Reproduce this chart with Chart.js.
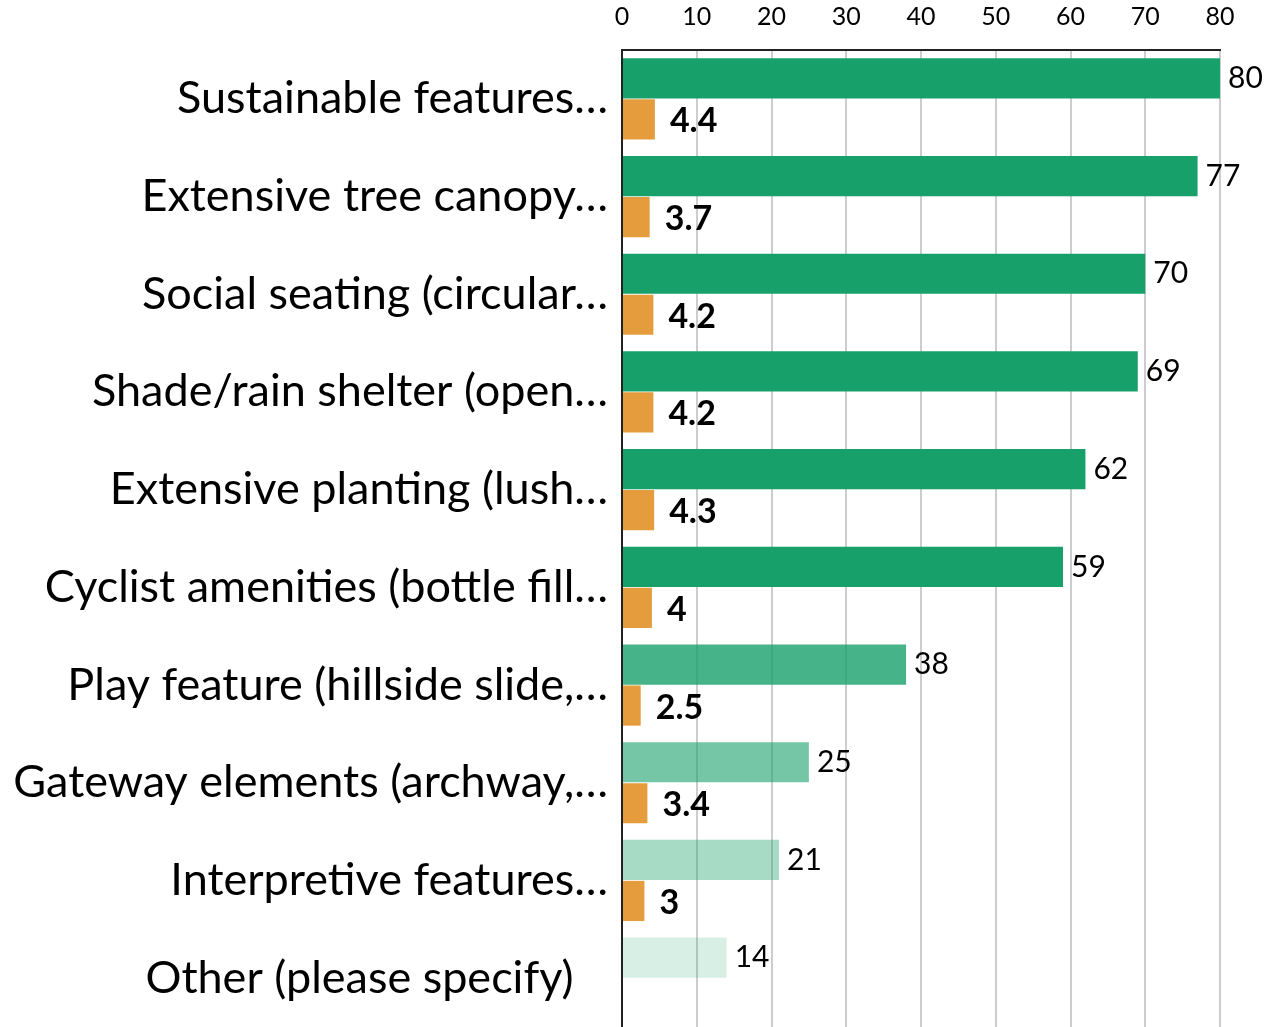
<!DOCTYPE html>
<html>
<head>
<meta charset="utf-8">
<script src="https://cdn.jsdelivr.net/npm/chart.js@4/dist/chart.umd.min.js"></script>
<style>
  html, body { margin: 0; padding: 0; background: #fff; }
  canvas { display: block; }
</style>
</head>
<body>
<canvas id="featuresChart" width="1276" height="1027"></canvas>
<script>
const categories = [
    'Sustainable features\u2026',
    'Extensive tree canopy\u2026',
    'Social seating (circular\u2026',
    'Shade/rain shelter (open\u2026',
    'Extensive planting (lush\u2026',
    'Cyclist amenities (bottle fill\u2026',
    'Play feature (hillside slide,\u2026',
    'Gateway elements (archway,\u2026',
    'Interpretive features\u2026',
    'Other (please specify)   '
];
const percentChosen = [80, 77, 70, 69, 62, 59, 38, 25, 21, 14];
const avgRating = [4.4, 3.7, 4.2, 4.2, 4.3, 4, 2.5, 3.4, 3, null];
const axisTicks = [0, 10, 20, 30, 40, 50, 60, 70, 80];

// green fades out for the less popular features
const greenShades = [
    'rgb(24,160,106)', 'rgb(24,160,106)', 'rgb(24,160,106)', 'rgb(24,160,106)',
    'rgb(24,160,106)', 'rgb(24,160,106)',
    'rgba(24,160,106,0.8)', 'rgba(24,160,106,0.6)',
    'rgba(24,160,106,0.38)', 'rgba(24,160,106,0.17)'
];
const orange = 'rgb(229,156,61)';
const fontFamily = 'Lato, "Open Sans", sans-serif';

// value labels at the end of each bar
const barValueLabels = {
    id: 'barValueLabels',
    afterDatasetsDraw(chart) {
        const ctx = chart.ctx;
        ctx.save();
        ctx.textBaseline = 'middle';
        ctx.textAlign = 'left';
        ctx.fillStyle = '#000';
        chart.data.datasets.forEach((ds, di) => {
            const meta = chart.getDatasetMeta(di);
            meta.data.forEach((bar, i) => {
                const v = ds.data[i];
                if (v === null || v === undefined) return;
                if (di === 0) {
                    ctx.font = '30px ' + fontFamily;
                    ctx.fillText(String(v), bar.x + 8, bar.y);
                } else {
                    ctx.font = 'bold 34px ' + fontFamily;
                    ctx.fillText(String(v), bar.x + 15, bar.y + 2);
                }
            });
        });
        ctx.restore();
    }
};

new Chart(document.getElementById('featuresChart').getContext('2d'), {
    type: 'bar',
    data: {
        labels: categories,
        datasets: [{
            label: '% chosen',
            data: percentChosen,
            backgroundColor: greenShades,
            categoryPercentage: 0.84,
            barPercentage: 0.98
        }, {
            label: 'Average rating',
            data: avgRating,
            backgroundColor: orange,
            categoryPercentage: 0.84,
            barPercentage: 0.98
        }]
    },
    options: {
        indexAxis: 'y',
        responsive: false,
        animation: false,
        layout: { padding: { left: 0, right: 56, top: 0, bottom: 0 } },
        plugins: {
            legend: { display: false },
            tooltip: { enabled: false }
        },
        scales: {
            x: {
                position: 'top',
                min: 0,
                max: 80,
                afterBuildTicks: (scale) => {
                    scale.ticks = axisTicks.map(v => ({ value: v }));
                },
                afterFit: (scale) => {
                    scale.height = 50;
                    scale.paddingLeft = 0;
                    scale.paddingRight = 0;
                },
                ticks: {
                    color: '#000',
                    padding: 18,
                    font: { family: fontFamily, size: 25 }
                },
                grid: { color: '#cdcdcd', lineWidth: 2, drawTicks: false },
                border: { color: '#222', width: 2 }
            },
            y: {
                afterFit: (scale) => {
                    scale.width = 622;
                    scale.paddingTop = 0;
                    scale.paddingBottom = 0;
                },
                ticks: {
                    color: '#000',
                    padding: 14,
                    font: { family: fontFamily, size: 45 }
                },
                grid: { display: false, drawTicks: false },
                border: { color: '#222', width: 2 }
            }
        }
    },
    plugins: [barValueLabels]
});
</script>
</body>
</html>
